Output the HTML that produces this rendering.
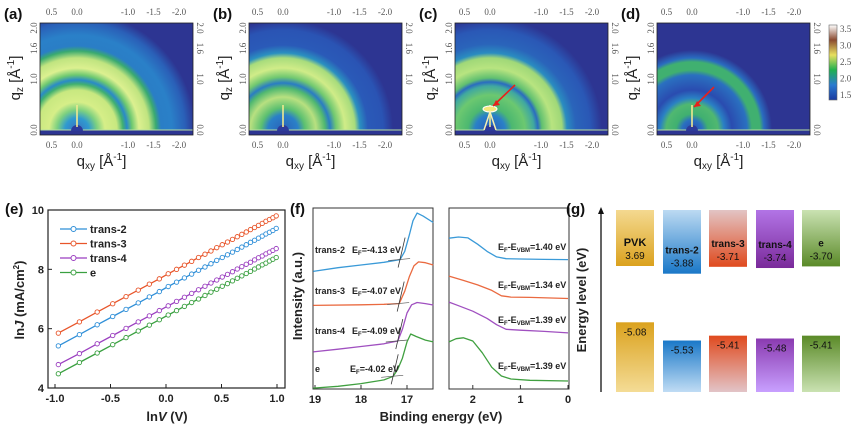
<!DOCTYPE html>
<html><head><meta charset="utf-8">
<style>
body{margin:0;background:#fff;}
svg{display:block;font-family:"Liberation Sans",sans-serif;}
.ser{font-family:"Liberation Serif",serif;}
</style></head>
<body>
<svg id="fig" width="865" height="430" viewBox="0 0 865 430" xmlns="http://www.w3.org/2000/svg">
<defs id="defs">
<linearGradient id="cbar" x1="0" y1="1" x2="0" y2="0">
<stop offset="0" stop-color="#1a3aa0"/><stop offset="0.2" stop-color="#2a7ad0"/><stop offset="0.4" stop-color="#20b050"/><stop offset="0.6" stop-color="#e8e060"/><stop offset="0.8" stop-color="#8a4a30"/><stop offset="1" stop-color="#ffffff"/>
</linearGradient>
</defs>
<g id="giwaxs"></g>
<g id="panelE"></g>
<g id="panelF"></g>
<g id="panelG"></g>
</svg>
<script>
const NS="http://www.w3.org/2000/svg";
function mk(tag,attrs,parent,txt){const e=document.createElementNS(NS,tag);for(const k in attrs)e.setAttribute(k,attrs[k]);if(txt!==undefined)e.textContent=txt;parent.appendChild(e);return e;}
const defs=document.getElementById('defs');

// ---------- GIWAXS panels ----------
const giLabels=["(a)","(b)","(c)","(d)"];
const giLeft=[40,249,455,657];
const giCenter=[77,283,490,692];
const giStops=[
[[0,"#3a70c0"],[12,"#2f9ad0"],[20,"#7cd080"],[28,"#d6ee88"],[40,"#c8e880"],[46,"#40b070"],[50,"#2a8ac8"],[55,"#6cc870"],[62,"#dcf090"],[72,"#c0e480"],[79,"#3aaa70"],[84,"#2a7ec6"],[95,"#2a80c8"],[108,"#2a60b8"],[118,"#2d3592"],[200,"#2d3592"]],
[[0,"#2a60b8"],[15,"#2a80c8"],[22,"#5cc070"],[33,"#b8e080"],[42,"#50b870"],[47,"#2a7cc4"],[53,"#70c870"],[62,"#d0ec88"],[72,"#a8dc7c"],[77,"#2a90c0"],[85,"#2a5ab8"],[100,"#2a54b4"],[110,"#2d3592"],[200,"#2d3592"]],
[[0,"#2a5ab8"],[15,"#2a80c8"],[22,"#4cb870"],[35,"#6cc870"],[44,"#40a8a0"],[48,"#2a6cc0"],[52,"#60c070"],[62,"#b8e480"],[72,"#a0d878"],[77,"#2a8cc0"],[86,"#2a64ba"],[100,"#2a58b6"],[112,"#2d3592"],[200,"#2d3592"]],
[[0,"#2a4ab0"],[10,"#2a70c0"],[16,"#40b070"],[26,"#50b870"],[32,"#2a80c4"],[40,"#2a4cb0"],[55,"#2a70c0"],[60,"#40b070"],[68,"#40b070"],[72,"#2a6cc0"],[80,"#2d3592"],[200,"#2d3592"]]
];
const qxyTicks=[0.5,0.0,-1.0,-1.5,-2.0];
const qzTicks=[0.0,1.0,1.6,2.0];
const gi=document.getElementById('giwaxs');
const PXQ=51, TOP=23, BOT=135, CY=130, W=153;
for(let p=0;p<4;p++){
  const L=giLeft[p], cx=giCenter[p];
  const g=mk('g',{},gi);
  
  
  const rg=mk('radialGradient',{id:'rg'+p,gradientUnits:'userSpaceOnUse',cx:cx,cy:CY,r:200},defs);
  giStops[p].forEach(s=>mk('stop',{offset:s[0]/200,'stop-color':s[1]},rg));
  const img=mk('rect',{x:L,y:TOP,width:W,height:BOT-TOP,fill:'url(#rg'+p+')'},g);
  
  
  mk('rect',{x:L,y:CY,width:W,height:BOT-CY,fill:'#2d3592'},g);
  mk('line',{x1:L,y1:CY,x2:L+W,y2:CY,stroke:'#b8e0a0','stroke-width':1},g);
  mk('path',{d:`M${cx-6} ${CY+1} A6 6 0 0 1 ${cx+6} ${CY+1} Z`,fill:'#2d3a9a'},g);
  mk('rect',{x:cx-1,y:CY-25,width:2,height:22,fill:'#f0e890',opacity:0.8},g);
  if(p==2){mk('ellipse',{cx:cx,cy:CY-21,rx:7,ry:3,fill:'#f4e87a',stroke:'#fff','stroke-width':1},g);
    mk('path',{d:`M${cx-6} ${CY} L${cx} ${CY-18} L${cx+6} ${CY}`,fill:'none',stroke:'#f8f0b0','stroke-width':1.5},g);}
  if(p>=2){const ax=p==2?cx+25:cx+22, ay=p==2?CY-45:CY-43, ex=p==2?cx+3:cx+2, ey=p==2?CY-24:CY-23;
    const ar=mk('line',{x1:ax,y1:ay,x2:ex,y2:ey,stroke:'#e8201a','stroke-width':1.6},g);
    
    mk('path',{d:`M${ex} ${ey} l7 -1 l-4 -5 z`,fill:'#e8201a'},g);}
  mk('rect',{x:L,y:TOP,width:W,height:BOT-TOP,fill:'none',stroke:'#222','stroke-width':0.8},g);
  qxyTicks.forEach(q=>{const x=cx-q*PXQ;
    mk('text',{x:x,y:15,'font-size':9,fill:'#555','text-anchor':'middle',class:'ser'},g,q.toFixed(1));
    mk('text',{x:x,y:148,'font-size':9,fill:'#555','text-anchor':'middle',class:'ser'},g,q.toFixed(1));});
  qzTicks.forEach(q=>{const y=CY-q*PXQ;
    mk('text',{x:0,y:0,'font-size':9,fill:'#555','text-anchor':'middle',class:'ser',transform:`translate(${L-3},${y}) rotate(-90)`},g,q.toFixed(1));
    mk('text',{x:0,y:0,'font-size':9,fill:'#555','text-anchor':'middle',class:'ser',transform:`translate(${L+W+4},${y}) rotate(90)`},g,q.toFixed(1));});
  const lab=mk('text',{x:L-36,y:19,'font-size':15,'font-weight':'bold',fill:'#111'},g,giLabels[p]);
  
  const xl=mk('text',{x:L+W/2-15,y:166,'font-size':15,fill:'#222','text-anchor':'middle'},g);
  
  xl.innerHTML='q<tspan font-size="10" dy="3">xy</tspan><tspan dy="-3"> [Å</tspan><tspan font-size="10" dy="-6">-1</tspan><tspan dy="6">]</tspan>';
  const yl=mk('text',{x:0,y:0,'font-size':15,fill:'#222','text-anchor':'middle',transform:`translate(${L-20},${78}) rotate(-90)`},g);
  
  yl.innerHTML='q<tspan font-size="10" dy="3">z</tspan><tspan dy="-3"> [Å</tspan><tspan font-size="10" dy="-6">-1</tspan><tspan dy="6">]</tspan>';
}
// colorbar
const cbTicks=[3.5,3.0,2.5,2.0,1.5];
const cb=mk('rect',{x:829,y:25,width:8,height:75,fill:'url(#cbar)',stroke:'#666','stroke-width':0.6},gi);

cbTicks.forEach(t=>{const y=95-(t-1.5)/2*66;mk('text',{x:840,y:y+3,'font-size':9,fill:'#555',class:'ser'},gi,t.toFixed(1));});

// ---------- Panel E ----------
const lnV=[-0.97,-0.78,-0.62,-0.48,-0.36,-0.25,-0.15,-0.06,0.02,0.095,0.166,0.231,0.293,0.351,0.405,0.457,0.507,0.554,0.599,0.642,0.683,0.723,0.761,0.798,0.833,0.867,0.900,0.932,0.963,0.993];
const trans2=[5.42,5.80,6.13,6.41,6.65,6.87,7.07,7.25,7.42,7.57,7.71,7.84,7.97,8.08,8.19,8.30,8.40,8.49,8.58,8.67,8.75,8.83,8.91,8.98,9.05,9.12,9.19,9.25,9.31,9.38];
const trans3=[5.85,6.23,6.56,6.84,7.08,7.30,7.50,7.68,7.85,8.00,8.14,8.27,8.40,8.51,8.62,8.73,8.83,8.92,9.01,9.10,9.18,9.26,9.34,9.41,9.48,9.55,9.62,9.68,9.74,9.80];
const trans4=[4.79,5.16,5.49,5.77,6.01,6.23,6.43,6.61,6.77,6.92,7.06,7.19,7.31,7.43,7.54,7.64,7.74,7.83,7.92,8.01,8.09,8.17,8.24,8.32,8.39,8.45,8.52,8.58,8.64,8.70];
const eSeries=[4.48,4.86,5.18,5.46,5.70,5.92,6.12,6.30,6.46,6.61,6.75,6.88,7.00,7.12,7.23,7.33,7.43,7.52,7.61,7.70,7.78,7.86,7.93,8.01,8.08,8.15,8.21,8.28,8.34,8.40];
const eNames=["trans-2","trans-3","trans-4","e"];
const eColors=["#2f8fd8","#e8552a","#9b3fc0","#3aa040"];
const eXTicks=[-1.0,-0.5,0.0,0.5,1.0];
const eYTicks=[4,6,8,10];
const E=document.getElementById('panelE');
const ex=v=>166+v*111, ey=v=>388-(v-4)/6*178;
const eax=mk('rect',{x:48,y:210,width:237,height:178,fill:'none',stroke:'#222','stroke-width':1.2},E);

eXTicks.forEach(t=>{mk('line',{x1:ex(t),y1:388,x2:ex(t),y2:384,stroke:'#222'},E);mk('text',{x:ex(t),y:402,'font-size':11,'font-weight':'bold','text-anchor':'middle',fill:'#222'},E,t.toFixed(1));});
eYTicks.forEach(t=>{mk('line',{x1:48,y1:ey(t),x2:52,y2:ey(t),stroke:'#222'},E);mk('text',{x:44,y:ey(t)+4,'font-size':11,'font-weight':'bold','text-anchor':'end',fill:'#222'},E,String(t));});
mk('text',{x:5,y:214,'font-size':15,'font-weight':'bold',fill:'#111'},E,'(e)');
const ylE=mk('text',{x:0,y:0,'font-size':13,'font-weight':'bold','text-anchor':'middle',fill:'#222',transform:'translate(24,300) rotate(-90)'},E);

ylE.innerHTML='ln<tspan font-style="italic">J</tspan> (mA/cm<tspan font-size="8" dy="-5">2</tspan><tspan dy="5">)</tspan>';
const xlE=mk('text',{x:167,y:421,'font-size':13,'font-weight':'bold','text-anchor':'middle',fill:'#222'},E);

xlE.innerHTML='ln<tspan font-style="italic">V</tspan> (V)';
[trans2,trans3,trans4,eSeries].forEach((s,i)=>{
  const d=s.map((v,j)=>(j?'L':'M')+ex(lnV[j]).toFixed(1)+' '+ey(v).toFixed(1)).join(' ');
  const ln=mk('path',{d:d,fill:'none',stroke:eColors[i],'stroke-width':1.3},E);
  
  s.forEach((v,j)=>{const c=mk('circle',{cx:ex(lnV[j]),cy:ey(v),r:2.2,fill:'#fff',stroke:eColors[i],'stroke-width':0.9},E);
    });
  const ly=229+i*14.5;
  const lg=mk('g',{},E);
  mk('line',{x1:60,y1:ly,x2:87,y2:ly,stroke:eColors[i],'stroke-width':1.3},lg);
  mk('circle',{cx:73.5,cy:ly,r:2.5,fill:'#fff',stroke:eColors[i]},lg);
  mk('text',{x:90,y:ly+4,'font-size':11,'font-weight':'bold',fill:'#222'},lg,eNames[i]);
});

// ---------- Panel F ----------
const F=document.getElementById('panelF');
const fNames=["trans-2","trans-3","trans-4","e"];
const fColors=["#3a9ad8","#ea6a40","#a050c0","#40a040"];
const secoBE=[[19.04,18.5,18,17.5,17.15,17.05,16.95,16.87,16.78,16.65,16.43],[19.04,18,17.5,17.17,17.05,16.95,16.85,16.75,16.6,16.43],[19.04,18.5,18,17.5,17.2,17.1,17,16.9,16.78,16.6,16.43],[19.04,18.5,18,17.5,17.3,17.2,17.1,17.0,16.92,16.8,16.6,16.43]];
const secoInt=[[6.5,6.7,6.85,7.0,7.15,7.6,8.5,9.3,9.72,9.55,9.2],[4.62,4.65,4.68,4.72,5.4,6.2,6.8,7.02,6.98,6.85],[2.05,2.2,2.35,2.5,2.65,3.3,4.2,4.65,4.78,4.72,4.64],[0.05,0.15,0.3,0.5,0.7,1.1,1.7,2.6,3.04,2.9,2.7,2.6]];
const vbBE=[[2.5,2.3,2.1,1.9,1.7,1.5,1.3,1.0,0.5,0],[2.5,2.2,1.9,1.6,1.4,1.2,0.8,0],[2.5,2.3,2.0,1.7,1.5,1.3,1.0,0.5,0],[2.5,2.35,2.2,2.0,1.8,1.6,1.4,1.2,0.8,0]];
const vbInt=[[8.33,8.4,8.35,8.0,7.6,7.3,7.2,7.18,7.16,7.15],[6.24,6.0,5.75,5.45,5.15,5.08,5.06,5.0],[4.8,4.6,4.3,3.9,3.55,3.3,3.25,3.18,3.1],[2.6,2.78,2.83,2.65,2.0,1.2,0.72,0.55,0.48,0.44]];
const efVals=["-4.13","-4.07","-4.09","-4.02"];
const vbmVals=["1.40","1.34","1.39","1.39"];
const fLeftTicks=[19,18,17], fRightTicks=[2,1,0];
const fxL=v=>315+(19-v)*46, fxR=v=>568-v*47.6, fy=v=>389-v*18.1;
const axL=mk('rect',{x:313,y:208,width:120,height:181,fill:'none',stroke:'#333','stroke-width':1},F);

const axR=mk('rect',{x:449,y:208,width:120,height:181,fill:'none',stroke:'#333','stroke-width':1},F);

fLeftTicks.forEach(t=>{mk('line',{x1:fxL(t),y1:389,x2:fxL(t),y2:385,stroke:'#333'},F);mk('text',{x:fxL(t),y:403,'font-size':11,'font-weight':'bold','text-anchor':'middle',fill:'#222'},F,String(t));});
fRightTicks.forEach(t=>{mk('line',{x1:fxR(t),y1:389,x2:fxR(t),y2:385,stroke:'#333'},F);mk('text',{x:fxR(t),y:403,'font-size':11,'font-weight':'bold','text-anchor':'middle',fill:'#222'},F,String(t));});
mk('text',{x:290,y:214,'font-size':15,'font-weight':'bold',fill:'#111'},F,'(f)');
const ylF=mk('text',{x:0,y:0,'font-size':13,'font-weight':'bold','text-anchor':'middle',fill:'#222',transform:'translate(302,296) rotate(-90)'},F,'Intensity (a.u.)');

const xlF=mk('text',{x:441,y:421,'font-size':13,'font-weight':'bold','text-anchor':'middle',fill:'#222'},F,'Binding energy (eV)');

const lblY=[253,294,334,372], vbLblY=[250,288,323,369];
for(let i=0;i<4;i++){
  const d1=secoBE[i].map((b,j)=>(j?'L':'M')+fxL(b).toFixed(1)+' '+fy(secoInt[i][j]).toFixed(1)).join(' ');
  const c1=mk('path',{d:d1,fill:'none',stroke:fColors[i],'stroke-width':1.3,'stroke-linejoin':'round'},F);
  
  const d2=vbBE[i].map((b,j)=>(j?'L':'M')+fxR(b).toFixed(1)+' '+fy(vbInt[i][j]).toFixed(1)).join(' ');
  const c2=mk('path',{d:d2,fill:'none',stroke:fColors[i],'stroke-width':1.3,'stroke-linejoin':'round'},F);
  
  // tangent marks
  const kb=secoBE[i].findIndex((b,j)=>j>0&&secoInt[i][j]-secoInt[i][j-1]>0.4);
  const tx=fxL(secoBE[i][kb-1]), ty=fy(secoInt[i][kb-1]);
  mk('line',{x1:tx-12,y1:ty+1,x2:tx+10,y2:ty-1,stroke:'#555','stroke-width':0.7},F);
  mk('line',{x1:tx-2,y1:ty+8,x2:tx+5,y2:ty-22,stroke:'#333','stroke-width':0.8},F);
  mk('text',{x:315,y:lblY[i],'font-size':9,'font-weight':'bold',fill:'#222'},F,fNames[i]);
  const ef=mk('text',{x:i==3?350:352,y:lblY[i],'font-size':9,'font-weight':'bold',fill:'#222'},F);
  ef.innerHTML='E<tspan font-size="6" dy="2">F</tspan><tspan dy="-2">='+efVals[i]+' eV</tspan>';
  const vb=mk('text',{x:498,y:vbLblY[i],'font-size':9,'font-weight':'bold',fill:'#222'},F);
  vb.innerHTML='E<tspan font-size="6" dy="2">F</tspan><tspan dy="-2">-E</tspan><tspan font-size="6" dy="2">VBM</tspan><tspan dy="-2">='+vbmVals[i]+' eV</tspan>';
}

// ---------- Panel G ----------
const G=document.getElementById('panelG');
const gNames=["PVK","trans-2","trans-3","trans-4","e"];
const lumo=[-3.69,-3.88,-3.71,-3.74,-3.70];
const lumoText=["3.69","-3.88","-3.71","-3.74","-3.70"];
const homo=[-5.08,-5.53,-5.41,-5.48,-5.41];
const gTop=[["#f4d990","#dba21e"],["#bcdaf2","#1a78c8"],["#e2c4c4","#e04a1e"],["#b274e6","#7a2a9a"],["#cae2b2","#5a8a28"]];
const gBot=[["#dba21e","#f4dc96"],["#1a78c8","#c0dcf4"],["#e04a1e","#e2c4c8"],["#8a3ab0","#c8a0ff"],["#5a8a28","#cae2b2"]];
const gy=E=>266+(-3.69-E)*40.5;
const gX=[616,663,709,756,802];
mk('text',{x:566,y:214,'font-size':15,'font-weight':'bold',fill:'#111'},G,'(g)');
const gax=mk('line',{x1:601,y1:392,x2:601,y2:212,stroke:'#111','stroke-width':1.3},G);

mk('path',{d:'M598 214 L601 207 L604 214 Z',fill:'#111'},G);
const ylG=mk('text',{x:0,y:0,'font-size':13,'font-weight':'bold','text-anchor':'middle',fill:'#222',transform:'translate(586,300) rotate(-90)'},G,'Energy level (eV)');

for(let i=0;i<5;i++){
  const lg1=mk('linearGradient',{id:'gt'+i,x1:0,y1:0,x2:0,y2:1},defs);
  mk('stop',{offset:0,'stop-color':gTop[i][0]},lg1);mk('stop',{offset:1,'stop-color':gTop[i][1]},lg1);
  const lg2=mk('linearGradient',{id:'gb'+i,x1:0,y1:0,x2:0,y2:1},defs);
  mk('stop',{offset:0,'stop-color':gBot[i][0]},lg2);mk('stop',{offset:1,'stop-color':gBot[i][1]},lg2);
  const yb=gy(lumo[i]);
  const r1=mk('rect',{x:gX[i],y:210,width:38,height:yb-210,fill:'url(#gt'+i+')'},G);
  
  const yt=gy(homo[i]);
  const r2=mk('rect',{x:gX[i],y:yt,width:38,height:392-yt,fill:'url(#gb'+i+')'},G);
  
  const cx=gX[i]+19;
  mk('text',{x:cx,y:yb-20,'font-size':i==0?11:10,'font-weight':'bold','text-anchor':'middle',fill:'#111'},G,gNames[i]);
  mk('text',{x:cx,y:yb-7,'font-size':10,'text-anchor':'middle',fill:'#111'},G,lumoText[i]);
  mk('text',{x:cx,y:yt+13,'font-size':10,'text-anchor':'middle',fill:'#111'},G,homo[i].toFixed(2));
}
</script>
</body></html>
